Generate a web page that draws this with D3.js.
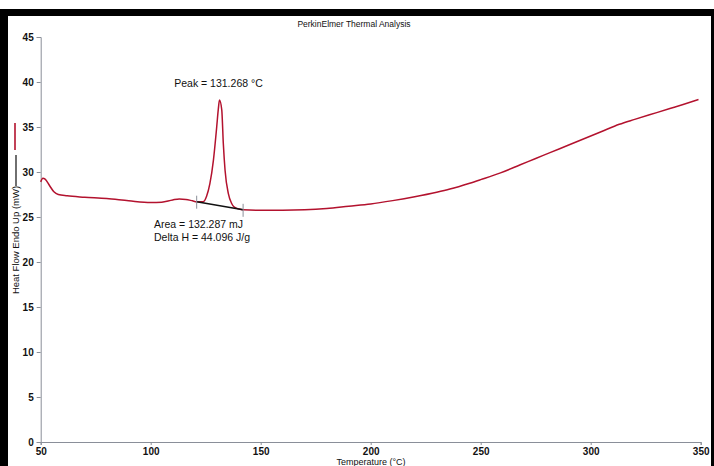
<!DOCTYPE html>
<html>
<head>
<meta charset="utf-8">
<script src="https://cdn.jsdelivr.net/npm/d3@7"></script>
<style>
  body { margin: 0; background: #fff; }
  svg { display: block; font-family: "Liberation Sans", Arial, sans-serif; }
</style>
</head>
<body>
<svg id="dsc-svg" width="714" height="466"></svg>
<script>
// temperature (°C) and heat flow (mW)
var temps = [50, 51, 52, 54, 56, 58, 62, 70, 80, 90, 100, 105, 110, 113, 116, 119, 120.9,
    123.9, 125.4, 126.9, 128.5, 130, 130.7, 131.27, 132.3, 133, 133.8, 135.3, 136.8, 138, 140, 142,
    150, 160, 170, 180, 190, 200, 210, 220, 230, 236, 245, 250, 259, 268, 275, 281.5, 290, 300,
    305, 313, 320, 330, 336, 342, 349];
var heatFlow = [28.9, 29.3, 29.2, 28.5, 27.8, 27.5, 27.35, 27.2, 27.05, 26.8, 26.6, 26.65, 26.9, 27.0, 26.95, 26.8, 26.7,
    26.7, 27.3, 28.7, 31.3, 35.0, 36.9, 38.0, 36.9, 33.2, 30.2, 27.6, 26.5, 26.1, 25.9, 25.8,
    25.75, 25.75, 25.8, 25.95, 26.2, 26.45, 26.82, 27.25, 27.75, 28.1, 28.75, 29.15, 29.9, 30.8, 31.5, 32.15, 33.0, 34.0,
    34.5, 35.3, 35.85, 36.6, 37.05, 37.5, 38.05];

// integration limits of the melting peak (baseline from start to end)
var baseStart = [120.9, 26.7];
var baseEnd = [142, 25.8];
var peakTemp = 131.27;
var peakValue = 38.0;

var xTicks = [50, 100, 150, 200, 250, 300, 350];
var yTicks = [0, 5, 10, 15, 20, 25, 30, 35, 40, 45];

var svg = d3.select('#dsc-svg');
var width = +svg.attr('width');
var height = +svg.attr('height');

var x = d3.scaleLinear().domain([50, 350]).range([40.7, 700.7]);
var y = d3.scaleLinear().domain([0, 45]).range([442, 37]);

var points = temps.map((t, i) => ({ t: t, v: heatFlow[i] }));

// frame of the scanned print-out
svg.append('rect').attr('x', 0).attr('y', 9).attr('width', width).attr('height', 7).attr('fill', '#000');
svg.append('rect').attr('x', 0).attr('y', 9).attr('width', 8).attr('height', height - 9).attr('fill', '#000');
svg.append('rect').attr('x', 711).attr('y', 9).attr('width', 3).attr('height', height - 9).attr('fill', '#000');

svg.append('text')
    .attr('x', 354)
    .attr('y', 27)
    .attr('text-anchor', 'middle')
    .style('font-size', '8.5px')
    .style('fill', '#111')
    .text('PerkinElmer Thermal Analysis');

// axes
var xAxis = svg.append('g')
    .attr('transform', `translate(0,${y(0)})`)
    .call(d3.axisBottom(x).tickValues(xTicks).tickSize(3).tickPadding(3));

var yAxis = svg.append('g')
    .attr('transform', `translate(${x(50)},0)`)
    .call(d3.axisLeft(y).tickValues(yTicks).tickSize(4).tickPadding(3));

[xAxis, yAxis].forEach(g => {
    g.select('.domain').attr('stroke', '#8a8f99').attr('stroke-width', 1);
    g.selectAll('.tick line').attr('stroke', '#8a8f99');
    g.selectAll('.tick text')
        .style('font-size', '10px')
        .style('font-weight', 'bold')
        .style('fill', '#111')
        .style('font-family', '"Liberation Sans", Arial, sans-serif');
});

svg.append('text')
    .attr('x', 371)
    .attr('y', 465)
    .attr('text-anchor', 'middle')
    .style('font-size', '9px')
    .style('fill', '#111')
    .text('Temperature (°C)');

// y label with the curve keys drawn beside it
svg.append('text')
    .attr('transform', 'translate(19,240) rotate(-90)')
    .attr('text-anchor', 'middle')
    .style('font-size', '9.5px')
    .style('fill', '#111')
    .text('Heat Flow Endo Up (mW)');

svg.append('line')
    .attr('x1', 16).attr('x2', 16).attr('y1', 155).attr('y2', 186)
    .attr('stroke', '#222').attr('stroke-width', 1.3);
svg.append('line')
    .attr('x1', 15).attr('x2', 15).attr('y1', 123).attr('y2', 150)
    .attr('stroke', '#b3122e').attr('stroke-width', 1.6);

// heat flow curve
var line = d3.line()
    .x(d => x(d.t))
    .y(d => y(d.v))
    .curve(d3.curveMonotoneX);

svg.append('path')
    .datum(points)
    .attr('fill', 'none')
    .attr('stroke', '#b3122e')
    .attr('stroke-width', 1.5)
    .attr('d', line);

// peak baseline and limit marks
svg.append('line')
    .attr('x1', x(baseStart[0])).attr('y1', y(baseStart[1]))
    .attr('x2', x(baseEnd[0])).attr('y2', y(baseEnd[1]))
    .attr('stroke', '#111').attr('stroke-width', 1.4);

[baseStart, baseEnd].forEach(p => {
    svg.append('line')
        .attr('x1', x(p[0])).attr('x2', x(p[0]))
        .attr('y1', y(p[1]) - 6).attr('y2', y(p[1]) + 7)
        .attr('stroke', '#8a8f99').attr('stroke-width', 1);
});

svg.append('text')
    .attr('x', x(peakTemp) - 1)
    .attr('y', y(peakValue) - 13)
    .attr('text-anchor', 'middle')
    .style('font-size', '10.5px')
    .style('fill', '#111')
    .text('Peak = 131.268 °C');

var areaText = svg.append('text')
    .attr('x', 154)
    .attr('y', 228)
    .style('font-size', '10.5px')
    .style('fill', '#111');
areaText.append('tspan').attr('x', 154).text('Area = 132.287 mJ');
areaText.append('tspan').attr('x', 154).attr('dy', 12.5).text('Delta H = 44.096 J/g');
</script>
</body>
</html>
